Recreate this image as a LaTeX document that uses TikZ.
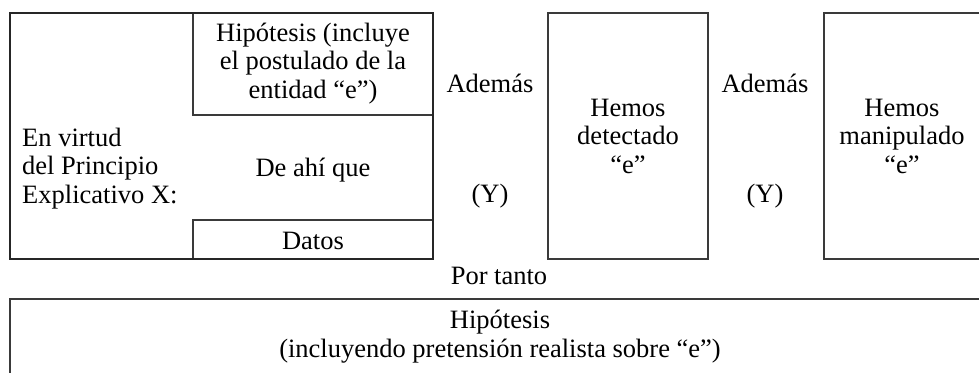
\documentclass[tikz,border=0pt]{standalone}
\usepackage{fontspec}
\setmainfont{Liberation Serif}
\usetikzlibrary{positioning}

\definecolor{linea}{HTML}{3A3A3A}

\begin{document}
\begin{tikzpicture}[x=1pt,y=-1pt,
        caja/.style={draw=linea,line width=1.1pt},
        texto/.style={align=center,inner sep=0pt,anchor=base,
            font=\fontsize{26.5}{28.5}\selectfont}]
    \useasboundingbox (0,0) rectangle (979,372);
    \clip (0,0) rectangle (979,372);
    % cuadro del principio explicativo
    \draw[caja] (193,13) rectangle (433,115);
    \draw[caja] (193,220) rectangle (433,259);
    \draw[line width=2.4pt,draw=black!85] (10,13) rectangle (433,259);
    \node[texto,anchor=base west,align=left] (principio) at (22,203)
        {En virtud\\del Principio\\Explicativo X:};
    \node[texto] (hipo) at (313,98) {Hipótesis (incluye\\el postulado de la\\entidad “e”)};
    \node[texto] (deahi) at (313,176) {De ahí que};
    \node[texto] (datos) at (313,249) {Datos};
    % detectado y manipulado
    \node[texto] (ademasA) at (490,92) {Además};
    \node[texto] (yA) at (490,202) {(Y)};
    \draw[caja] (548,13) rectangle (708,259);
    \node[texto] (detectado) at (628,173) {Hemos\\detectado\\“e”};
    \node[texto] (ademasB) at (765,92) {Además};
    \node[texto] (yB) at (765,202) {(Y)};
    \draw[caja] (824,13) rectangle (990,259);
    \node[texto] (manipulado) at (902,173) {Hemos\\manipulado\\“e”};
    % conclusion
    \node[texto] (portanto) at (499,284) {Por tanto};
    \draw[caja] (10,299) rectangle (990,400);
    \node[texto] (conclusion) at (500,357)
        {Hipótesis\\(incluyendo pretensión realista sobre “e”)};
\end{tikzpicture}
\end{document}
